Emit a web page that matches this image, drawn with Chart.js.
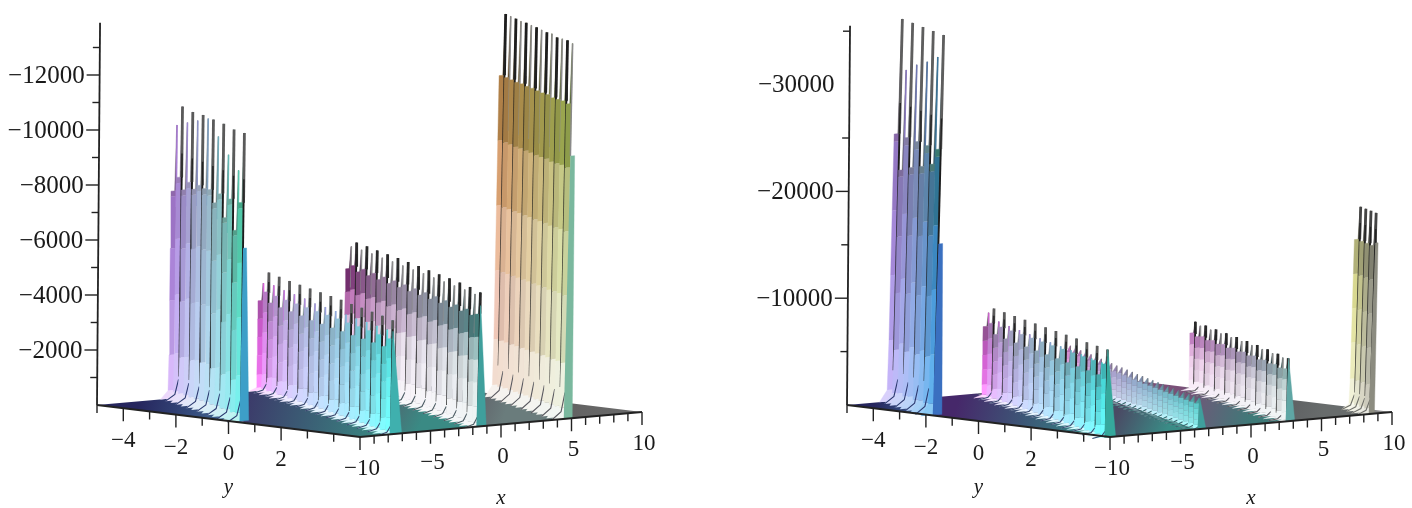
<!DOCTYPE html>
<html>
<head>
<meta charset="utf-8">
<title>Soliton surfaces</title>
<script src="https://cdn.jsdelivr.net/npm/chart.js@4"></script>
<style>
html, body { margin: 0; background: #fff; overflow: hidden; }
canvas { position: absolute; top: 0; filter: blur(0.45px); }
#leftChart { left: 0; }
#rightChart { left: 706px; }
</style>
</head>
<body>
<canvas id="leftChart" width="706" height="508"></canvas>
<canvas id="rightChart" width="706" height="508"></canvas>
<script>
// mesh lines along y, shared by both surfaces
var yGrid = [-5, -4.6, -4.2, -3.8, -3.4, -3, -2.6, -2.2, -1.8, -1.4, -1, -0.6, -0.2, 0.2, 0.6, 1, 1.4, 1.8, 2.2, 2.6, 3, 3.4, 3.8, 4.2, 4.6, 5];
var yTicks = [-4, -2, 0, 2];
var yMinorTicks = [-5, -3, -1, 1, 3, 4];
var xTicks = [-10, -5, 0, 5, 10];
var xMinorTicks = [-9, -8, -7, -6, -4, -3, -2, -1, 1, 2, 3, 4, 6, 7, 8, 9];

var leftZTicks = [2000, 4000, 6000, 8000, 10000, 12000];
var leftZMinor = [1000, 3000, 5000, 7000, 9000, 11000, 13000];
var rightZTicks = [10000, 20000];
var rightZLabels = [10000, 20000, 30000];
var rightZMinor = [5000, 15000, 25000, 35000];

// peak height of each ridge at successive yGrid lines
var leftRidge1 = [9930, 10670, 10150, 10600, 10350, 10620, 10550, 10580, 10030, 10550, 9490, 10470, 9050, 10470];
var leftRidge2 = [3900, 4350, 3950, 4320, 3900, 4300, 3880, 4290, 3850, 4280, 3800, 4270, 3800, 4260, 3780, 4250, 3780, 4230, 3760, 4220, 3760, 4200, 3750, 4180, 3740, 4150];
var leftRidge3 = [4950, 5160, 4960, 5150, 4950, 5130, 4930, 5120, 4920, 5110, 4900, 5090, 4880, 5070, 4870, 5050, 4850, 5030, 4830, 5010, 4810, 4980, 4790, 4950, 4760, 4880];
var leftRidge4 = [13890, 13870, 13850, 13820, 13830, 13800, 13790, 13760, 13740, 13750, 13680, 13690, 13700, 13650];

var rightRidge1 = [35770, 31160, 35730, 31970, 35670, 32580, 35620, 33350, 35580];
var rightRidge2 = [7900, 8450, 7400, 8420, 7300, 8400, 7250, 8380, 7200, 8360, 7150, 8340, 7100, 8320, 7050, 8300, 7000, 8280, 6950, 8260, 6900, 8240, 6850, 8220];
var rightRidge3 = [3700, 3640, 3600, 3560, 3540, 3480, 3460, 3400, 3380, 3320, 3300, 3260, 3220, 3180, 3160, 3120, 3100, 3060, 3040, 3000, 2990, 2960, 2940, 2920, 2910, 2900];
var rightRidge4 = [6370, 6150, 6340, 6120, 6310, 6090, 6280, 6060, 6250, 6030, 6200, 5980, 6150, 5930, 6080, 5880, 6000, 5800, 5900];
var rightRidge5 = [18900, 18880, 18860, 18830];

// cross-section of one spike: fraction of peak height and half width in x units
var bandLevels = [0, 0.03, 0.15, 0.33, 0.5, 0.67, 0.84, 1];
var bandWidths = [0.95, 0.42, 0.38, 0.38, 0.38, 0.38, 0.38, 0.03];
var TIP_WIDTH = 0.12;

var leftPanel = {
  ox: 97, oy: 405, ay: 26.3, by: 3.2, ax: 14.1, bx: 1.25, k: 0.0275, axisLean: 0.008,
  zTop: 13900,
  zMajor: leftZTicks, zMinor: leftZMinor, zLabels: leftZTicks,
  ridges: [
    { c: -9.3, start: 0, heights: leftRidge1, dark: 1, lean: 0.012, glow: 0.25, tip: '#5a5a5a', hatch: '#2c3a70', wall: '#3d9fc8', wallTop: 0.25, wallBot: 0.55, wallTo: 0.6,
      levels: [0, 0.03, 0.16, 0.36, 0.55, 0.74, 0.76, 1],
      back: ['#ecd8fb', '#d8b8fa', '#c8a4f4', '#b88ee8', '#a87cd4', '#9a70b8', '#7a6088'],
      front: ['#b8f4f0', '#78f0ec', '#68e8dc', '#5cdcc4', '#50c8a8', '#44a888', '#2a7058'] },
    { c: -3.05, start: 0, heights: leftRidge2, dark: 1, lean: 0.015, glow: 0.3, bias: 0.65, tip: '#5a5a5a', hatch: '#3a4a70', wall: '#3fb0ae', wallTop: 0.05, wallBot: 0.75, wallTo: 0.9,
      back: ['#ffd4ff', '#ff90ff', '#fa78fa', '#ee6cee', '#d860d8', '#b858b8', '#705070'],
      front: ['#c8ffff', '#78ffff', '#70fafa', '#68f2f2', '#5ce6e6', '#50d0d0', '#3a9090'] },
    { c: 3.1, start: 0, heights: leftRidge3, dark: 1, lean: 0.02, glow: 0.35, tip: '#2a2a2a', lightTip: '#8a8a8a', hatch: '#4a5a62', wall: '#3f9f9c', wallTop: 0.05, wallBot: 0.6, wallTo: 0.9,
      back: ['#f6f0f6', '#f6e6f6', '#f2d8f2', '#ecc8ec', '#c070b8', '#7c3276', '#401c40'],
      front: ['#f4f8f8', '#eef4f4', '#e4eeee', '#d0e0e0', '#9cc0c0', '#447c7a', '#204a48'] },
    { c: 9.3, start: 12, heights: leftRidge4, dark: 0, lean: 0.02, tip: '#1e1e1e', lightTip: '#8a8a8a', hatch: '#5a5a60', wall: '#7ab89e', wallTop: 0.3, wallBot: 0.5, wallTo: 0.7,
      back: ['#f6f2ee', '#f2dccf', '#f0c8b8', '#ecbc9c', '#d8a070', '#b08048', '#6a5030'],
      front: ['#f2f6f2', '#eef2e0', '#e4ecc4', '#d8e2a8', '#c4cc88', '#98a850', '#586a30'] }
  ],
  floors: [
    { pts: [[-10, -5], [-4.55, -5], [-10, 0.73]], from: [-7, -5], to: [-10, 0.7], colors: ['#26265e', '#46749c'] },
    { pts: [[-4.55, -5], [1.7, -5], [-7.8, 5], [-10, 5], [-10, 0.73]], from: [-3, -4], to: [-9, 5], colors: ['#3c2d66', '#3a8480'] },
    { pts: [[1.7, -5], [7.85, -5], [-1.65, 5], [-7.8, 5]], from: [0, 0], to: [-6, 5], colors: ['#555a68', '#3a8a84'] },
    { pts: [[7.85, -5], [10, -5], [10, -0.75], [4.55, 5], [-1.65, 5]], from: [4, 1], to: [0, 5], colors: ['#5a5560', '#6a7c7c'] },
    { pts: [[10, -0.75], [10, 5], [4.55, 5]], from: [7, 2], to: [9, 5], colors: ['#5c5c5c', '#6a6a6a'] }
  ]
};

var rightPanel = {
  ox: 141, oy: 405, ay: 26.3, by: 3.2, ax: 14.1, bx: 1.25, k: 0.01068, axisLean: 0.008,
  zTop: 35500,
  zMajor: rightZTicks, zMinor: rightZMinor, zLabels: rightZLabels,
  ridges: [
    { c: -11.5, start: 0, heights: rightRidge1, dark: 0, lean: 0.025, glow: 0.15, tip: '#5e5e5e', hatch: '#2c3a70', wall: '#3a70c0', wallTop: 0.3, wallBot: 0.55, wallTo: 0.45,
      levels: [0, 0.03, 0.16, 0.33, 0.5, 0.68, 0.7, 1],
      back: ['#d8d0fb', '#c4b4f8', '#b09ce8', '#a488d8', '#9478c4', '#8868a8', '#5a5060'],
      front: ['#88c8f4', '#60b0ec', '#4c9cdc', '#3c88c0', '#307494', '#3a7a70', '#204850'] },
    { c: -5.55, start: 2, heights: rightRidge2, dark: 1, lean: 0.02, glow: 0.3, bias: 0.65, tip: '#5a5a5a', hatch: '#3a4a70', wall: '#35a89c', wallTop: 0.03, wallBot: 0.7, wallTo: 1,
      back: ['#ffdcff', '#ff98ff', '#f47cf4', '#e46ce4', '#c860c8', '#a058a0', '#6a506a'],
      front: ['#c8ffff', '#70ffff', '#60f6f6', '#54eaea', '#48d8d8', '#40b4b4', '#387c7c'] },
    { c: 1.05, start: 0, heights: rightRidge3, dark: -1, lean: 0.02, tipWidth: 0.3, tip: '#888888', hatch: '#3a6a70', wall: '#3f9f9c', wallTop: 0.03, wallBot: 0.5, wallTo: 1,
      back: ['#fff0ff', '#ffd8fb', '#ffc8f8', '#fcb8f2', '#f4a8ea', '#e498e0', '#c878c4'],
      front: ['#d8ffff', '#a0fbfb', '#8cf6f6', '#80f0f0', '#74e8e8', '#64d8d8', '#50b0b0'] },
    { c: 7.3, start: 7, heights: rightRidge4, dark: 0, lean: 0.02, tip: '#2a2a2a', lightTip: '#8a8a8a', hatch: '#5a5a60', wall: '#5fa6a4', wallTop: 0.03, wallBot: 0.55, wallTo: 1,
      back: ['#fdf6fd', '#f8ecf8', '#f4dcf2', '#f0d0ec', '#e0b0dc', '#c080c0', '#402840'],
      front: ['#f4f8f8', '#f0f6f6', '#e8f0f0', '#dce8e8', '#c0d4d4', '#90b0b0', '#284a48'] },
    { c: 13.2, start: 22, heights: rightRidge5, dark: 2, lean: 0.03, tip: '#444444', hatch: '#70706a', wall: '#8c8c80', wallTop: 0.2, wallBot: 0.3, wallTo: 0.85,
      back: ['#f8f8ec', '#f2f2d8', '#ececbc', '#e4e4a4', '#d8d890', '#b0b078', '#585840'],
      front: ['#e8e8e0', '#cccabc', '#b8b8a8', '#a8a898', '#989888', '#808070', '#505048'] }
  ],
  floors: [
    { pts: [[-10, -5], [-6.75, -5], [-10, -1.6]], from: [-8, -5], to: [-10, -1.8], colors: ['#26265e', '#3f6a9c'] },
    { pts: [[-6.75, -5], [-0.8, -5], [-10, 4.7], [-10, -1.6]], from: [-4, -4], to: [-9, 4], colors: ['#46286a', '#328a84'] },
    { pts: [[-0.8, -5], [5.8, -5], [-3.7, 5], [-10, 5], [-10, 4.7]], from: [0, 0], to: [-6, 5], colors: ['#4a4a64', '#3a8c86'] },
    { pts: [[5.8, -5], [10, -5], [10, -2.85], [2.55, 5], [-3.7, 5]], from: [4, 0], to: [0, 5], colors: ['#7a5078', '#3e7a78'] },
    { pts: [[10, -2.85], [10, 3.4], [8.45, 5], [2.55, 5]], from: [9, 0], to: [5, 5], colors: ['#545458', '#686c6c'] },
    { pts: [[10, 3.4], [10, 5], [8.45, 5]], from: [9, 4], to: [9, 5], colors: ['#707070', '#888888'] }
  ]
};

function project(p, x, y, z, lean) {
  var l = lean === undefined ? p.axisLean : lean;
  return {
    x: p.ox + (y + 5) * p.ay + (x + 10) * p.ax + z * p.k * l,
    y: p.oy + (y + 5) * p.by - (x + 10) * p.bx - z * p.k
  };
}

function mix(a, b, t) {
  var out = '#';
  for (var i = 1; i < 7; i += 2) {
    var v = Math.round(parseInt(a.substr(i, 2), 16) * (1 - t) + parseInt(b.substr(i, 2), 16) * t);
    out += (v < 16 ? '0' : '') + v.toString(16);
  }
  return out;
}

function shape(points, color) {
  return { data: points, showLine: true, fill: 'shape', backgroundColor: color, borderColor: color, borderWidth: 0.4, pointRadius: 0, clip: false };
}
function stroke(points, color, width) {
  return { data: points, showLine: true, fill: false, borderColor: color, borderWidth: width, pointRadius: 0, clip: false };
}

function ridgeMarks(p, r, out) {
  var n = r.heights.length, top = bandLevels.length - 2, lv = r.levels || bandLevels, tipFrom = lv[top];
  r.heights.forEach(function(z, i) {
    var y = yGrid[r.start + i], xc = r.c - 0.95 * y, t = n > 1 ? i / (n - 1) : 0;
    var at = function(dx, f) { return project(p, xc + dx, y, f * z, r.lean); };
    var isDark = r.dark === 2 || (r.dark >= 0 && i % 2 === r.dark);
    var tc = Math.pow(t, r.bias || 1);
    for (var k = 0; k <= top; k++) {
      var low = k === top ? (r.tipWidth || TIP_WIDTH) : bandWidths[k];
      // the colour passes through a paler middle instead of a grey mix
      var col = mix(mix(r.back[k], r.front[k], tc), '#ffffff', 4 * tc * (1 - tc) * (r.glow || 0));
      if (!isDark && k > 1) col = mix(col, '#000000', 0.07);
      out.push(shape([at(-low, lv[k]), at(-bandWidths[k + 1], lv[k + 1]), at(0, lv[k + 1]), at(0, lv[k])], col));
    }
    // shadow hatch on the floor side of the foot
    if (r.dark === 2 || i % 2 === 1 || r.dark < 0) {
      out.push(stroke([at(-0.95, 0), at(-0.3, 0.02), at(-0.05, 0.07)], r.hatch, 1.1));
    }
    if (isDark) {
      out.push(stroke([at(0, 0.08), at(0, tipFrom + 0.02)], '#1c1c1c', 1.9));
      out.push(stroke([at(0, tipFrom), at(0, 1)], r.tip, 2.8));
      out.push(stroke([at(0, tipFrom), at(0, tipFrom + 0.08)], '#222222', 1.4));
    } else if (r.dark >= 0) {
      out.push(stroke([at(0, 0.7), at(0, 1)], r.lightTip || mix(r.back[4], r.front[4], t), 1.5));
    } else {
      out.push(stroke([at(0, 0.1), at(0, 1)], '#666666', 0.7));
    }
    if (i === n - 1) {
      out.push(shape([at(0, r.wallTo), at(r.wallTop, r.wallTo), at(r.wallBot, 0), at(-0.1, 0)], r.wall));
    }
  });
}

function floorMark(p, f) {
  var ds = shape(f.pts.map(function(c) { return project(p, c[0], c[1], 0); }), f.colors[0]);
  var a = project(p, f.from[0], f.from[1], 0), b = project(p, f.to[0], f.to[1], 0);
  ds.backgroundColor = function(ctx) {
    var s = ctx.chart.scales;
    if (!s.x || !ctx.chart.chartArea) return f.colors[0];
    var ax = s.x.getPixelForValue(a.x), ay = s.y.getPixelForValue(a.y), bx = s.x.getPixelForValue(b.x), by = s.y.getPixelForValue(b.y);
    if (!isFinite(ax + ay + bx + by)) return f.colors[0];
    var g = ctx.chart.ctx.createLinearGradient(ax, ay, bx, by);
    g.addColorStop(0, f.colors[0]);
    g.addColorStop(1, f.colors[1]);
    return g;
  };
  ds.borderWidth = 0;
  return ds;
}

function axisMarks(p, out) {
  var AXIS = '#222222';
  out.push(stroke([project(p, -10, -5, 0), project(p, -10, -5, p.zTop)], AXIS, 1.8));
  out.push(stroke([project(p, -10, -5, 0), project(p, -10, 5, 0), project(p, 10, 5, 0)], AXIS, 1.8));
  function ticks(list, len) {
    list.forEach(function(v) {
      var a = project(p, -10, -5, v);
      out.push(stroke([a, { x: a.x - len, y: a.y }], AXIS, 1.4));
    });
  }
  ticks(p.zMajor, 13);
  ticks(p.zMinor, 7);
  function drop(list, fn, len) {
    list.forEach(function(v) {
      var a = fn(v);
      out.push(stroke([a, { x: a.x, y: a.y + len }], AXIS, 1.4));
    });
  }
  var onY = function(v) { return project(p, -10, v, 0); };
  var onX = function(v) { return project(p, v, 5, 0); };
  drop(yTicks, onY, 13);
  drop(yMinorTicks, onY, 8);
  drop(xTicks, onX, 13);
  drop(xMinorTicks, onX, 8);
}

var labelPlugin = {
  id: 'surfaceLabels',
  afterDatasetsDraw: function(chart, args, opts) {
    var p = opts.panel, c = chart.ctx, s = chart.scales;
    function text(str, a, dx, dy, align, font) {
      c.font = font;
      c.textAlign = align;
      c.textBaseline = 'middle';
      c.fillStyle = '#1a1a1a';
      c.fillText(str, s.x.getPixelForValue(a.x) + dx, s.y.getPixelForValue(a.y) + dy);
    }
    function num(v) { return v < 0 ? '\u2212' + (-v) : String(v); }
    var Z = '25px "Liberation Serif"', F = '23px "Liberation Serif"', T = 'italic 21px "Liberation Serif"';
    p.zLabels.forEach(function(v) { text('\u2212' + v, project(p, -10, -5, v), -15, 1, 'right', Z); });
    yTicks.forEach(function(v) { text(num(v), project(p, -10, v, 0), 0, 33, 'center', F); });
    xTicks.forEach(function(v) { text(num(v), project(p, v, 5, 0), 2, 32, 'center', F); });
    text('y', project(p, -10, 0, 0), 0, 66, 'center', T);
    text('x', project(p, 0, 5, 0), 0, 74, 'center', T);
  }
};

function drawPanel(id, p) {
  var marks = [];
  p.floors.forEach(function(f) { marks.push(floorMark(p, f)); });
  // far ridges first, the camera sits on the x = -10 side
  p.ridges.slice().reverse().forEach(function(r) { ridgeMarks(p, r, marks); });
  axisMarks(p, marks);
  // chart.js paints the first dataset last, so flip back-to-front order
  marks.reverse();
  new Chart(document.getElementById(id), {
    type: 'scatter',
    data: { datasets: marks },
    options: {
      responsive: false,
      animation: false,
      events: [],
      layout: { padding: 0 },
      scales: {
        x: { type: 'linear', display: false, min: 0, max: 706 },
        y: { type: 'linear', display: false, min: 0, max: 508, reverse: true }
      },
      plugins: { legend: { display: false }, tooltip: { enabled: false }, surfaceLabels: { panel: p } }
    },
    plugins: [labelPlugin]
  });
}

drawPanel('leftChart', leftPanel);
drawPanel('rightChart', rightPanel);
</script>
</body>
</html>
